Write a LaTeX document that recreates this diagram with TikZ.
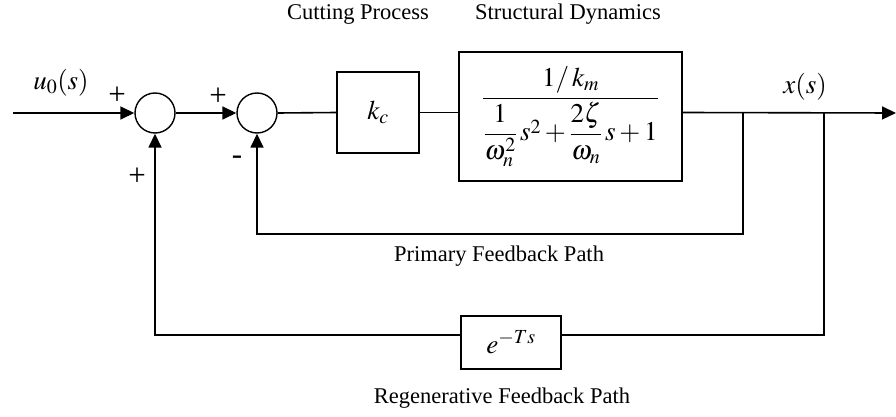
\documentclass[tikz,border=0pt]{standalone}
\usepackage{amsmath}
\usepackage{mathptmx}
\usepackage{fontspec}
\setmainfont{Liberation Serif}
\usetikzlibrary{arrows.meta}
\begin{document}
\begin{tikzpicture}[x=1pt,y=-1pt,line width=1.6pt,
  sumc/.style={circle,draw,minimum size=40pt,inner sep=0pt,line width=1.4pt},
  blk/.style={draw,line width=1.6pt,inner sep=0pt},
  arr/.style={-{Triangle[length=14pt,width=13pt]}},
  lbl/.style={font=\fontsize{22.5}{26}\selectfont},
  sgn/.style={font=\fontsize{31}{34}\selectfont},
  mlbl/.style={font=\fontsize{27}{32}\selectfont}]
\useasboundingbox (0,0) rectangle (896,417);
\coordinate (in) at (13,113);
\coordinate (pr) at (0,234);
\coordinate (rg) at (0,335);
\node[sumc] (s1) at (155,113) {};
\node[sumc] (s2) at (257,113) {};
\node[blk,mlbl,minimum width=82pt,minimum height=81pt] (kc) at (378,112.5) {$k_c$};
\node[blk,mlbl,minimum width=223pt,minimum height=129pt] (sd) at (570.5,116.5)
  {$\dfrac{1/\,k_m}{\dfrac{1}{\omega_n^2}\,s^2+\dfrac{2\zeta}{\omega_n}\,s+1}$};
\coordinate (t1) at (743,113);
\coordinate (t2) at (824,113);
\coordinate (out) at (896,113);
\node[blk,mlbl,minimum width=100pt,minimum height=53pt] (d) at (511,342.5) {$e^{-Ts}$};
% connectors
\draw[arr] (in) -- (s1.west);
\draw[arr] (s1.east) -- (s2.west);
\draw (s2.east) -- (kc.west);
\draw (kc.east) -- (sd.west |- kc.east);
\draw[arr] (sd.east |- kc.east) -- (out);
\draw[arr] (t1) -- (t1 |- pr) -- (s2 |- pr) -- (s2.south);
\draw (t2) -- (t2 |- rg) -- (d.east |- rg);
\draw[arr] (d.west |- rg) -- (s1 |- rg) -- (s1.south);
% labels
\node[lbl] (cp) at (358,14) {Cutting Process};
\node[lbl] (sdl) at (568,14) {Structural Dynamics};
\node[lbl] (pfp) at (499,256) {Primary Feedback Path};
\node[lbl] (rfp) at (502,398) {Regenerative Feedback Path};
\node[mlbl] (u0) at (61,83) {$u_0(s)$};
\node[mlbl] (xs) at (805,87) {$x(s)$};
\node[sgn] (p1) at (117,96) {+};
\node[sgn] (p2) at (218,97) {+};
\node[sgn] (m2) at (237,160) {-};
\node[sgn] (p3) at (137,177) {+};
\end{tikzpicture}
\end{document}
